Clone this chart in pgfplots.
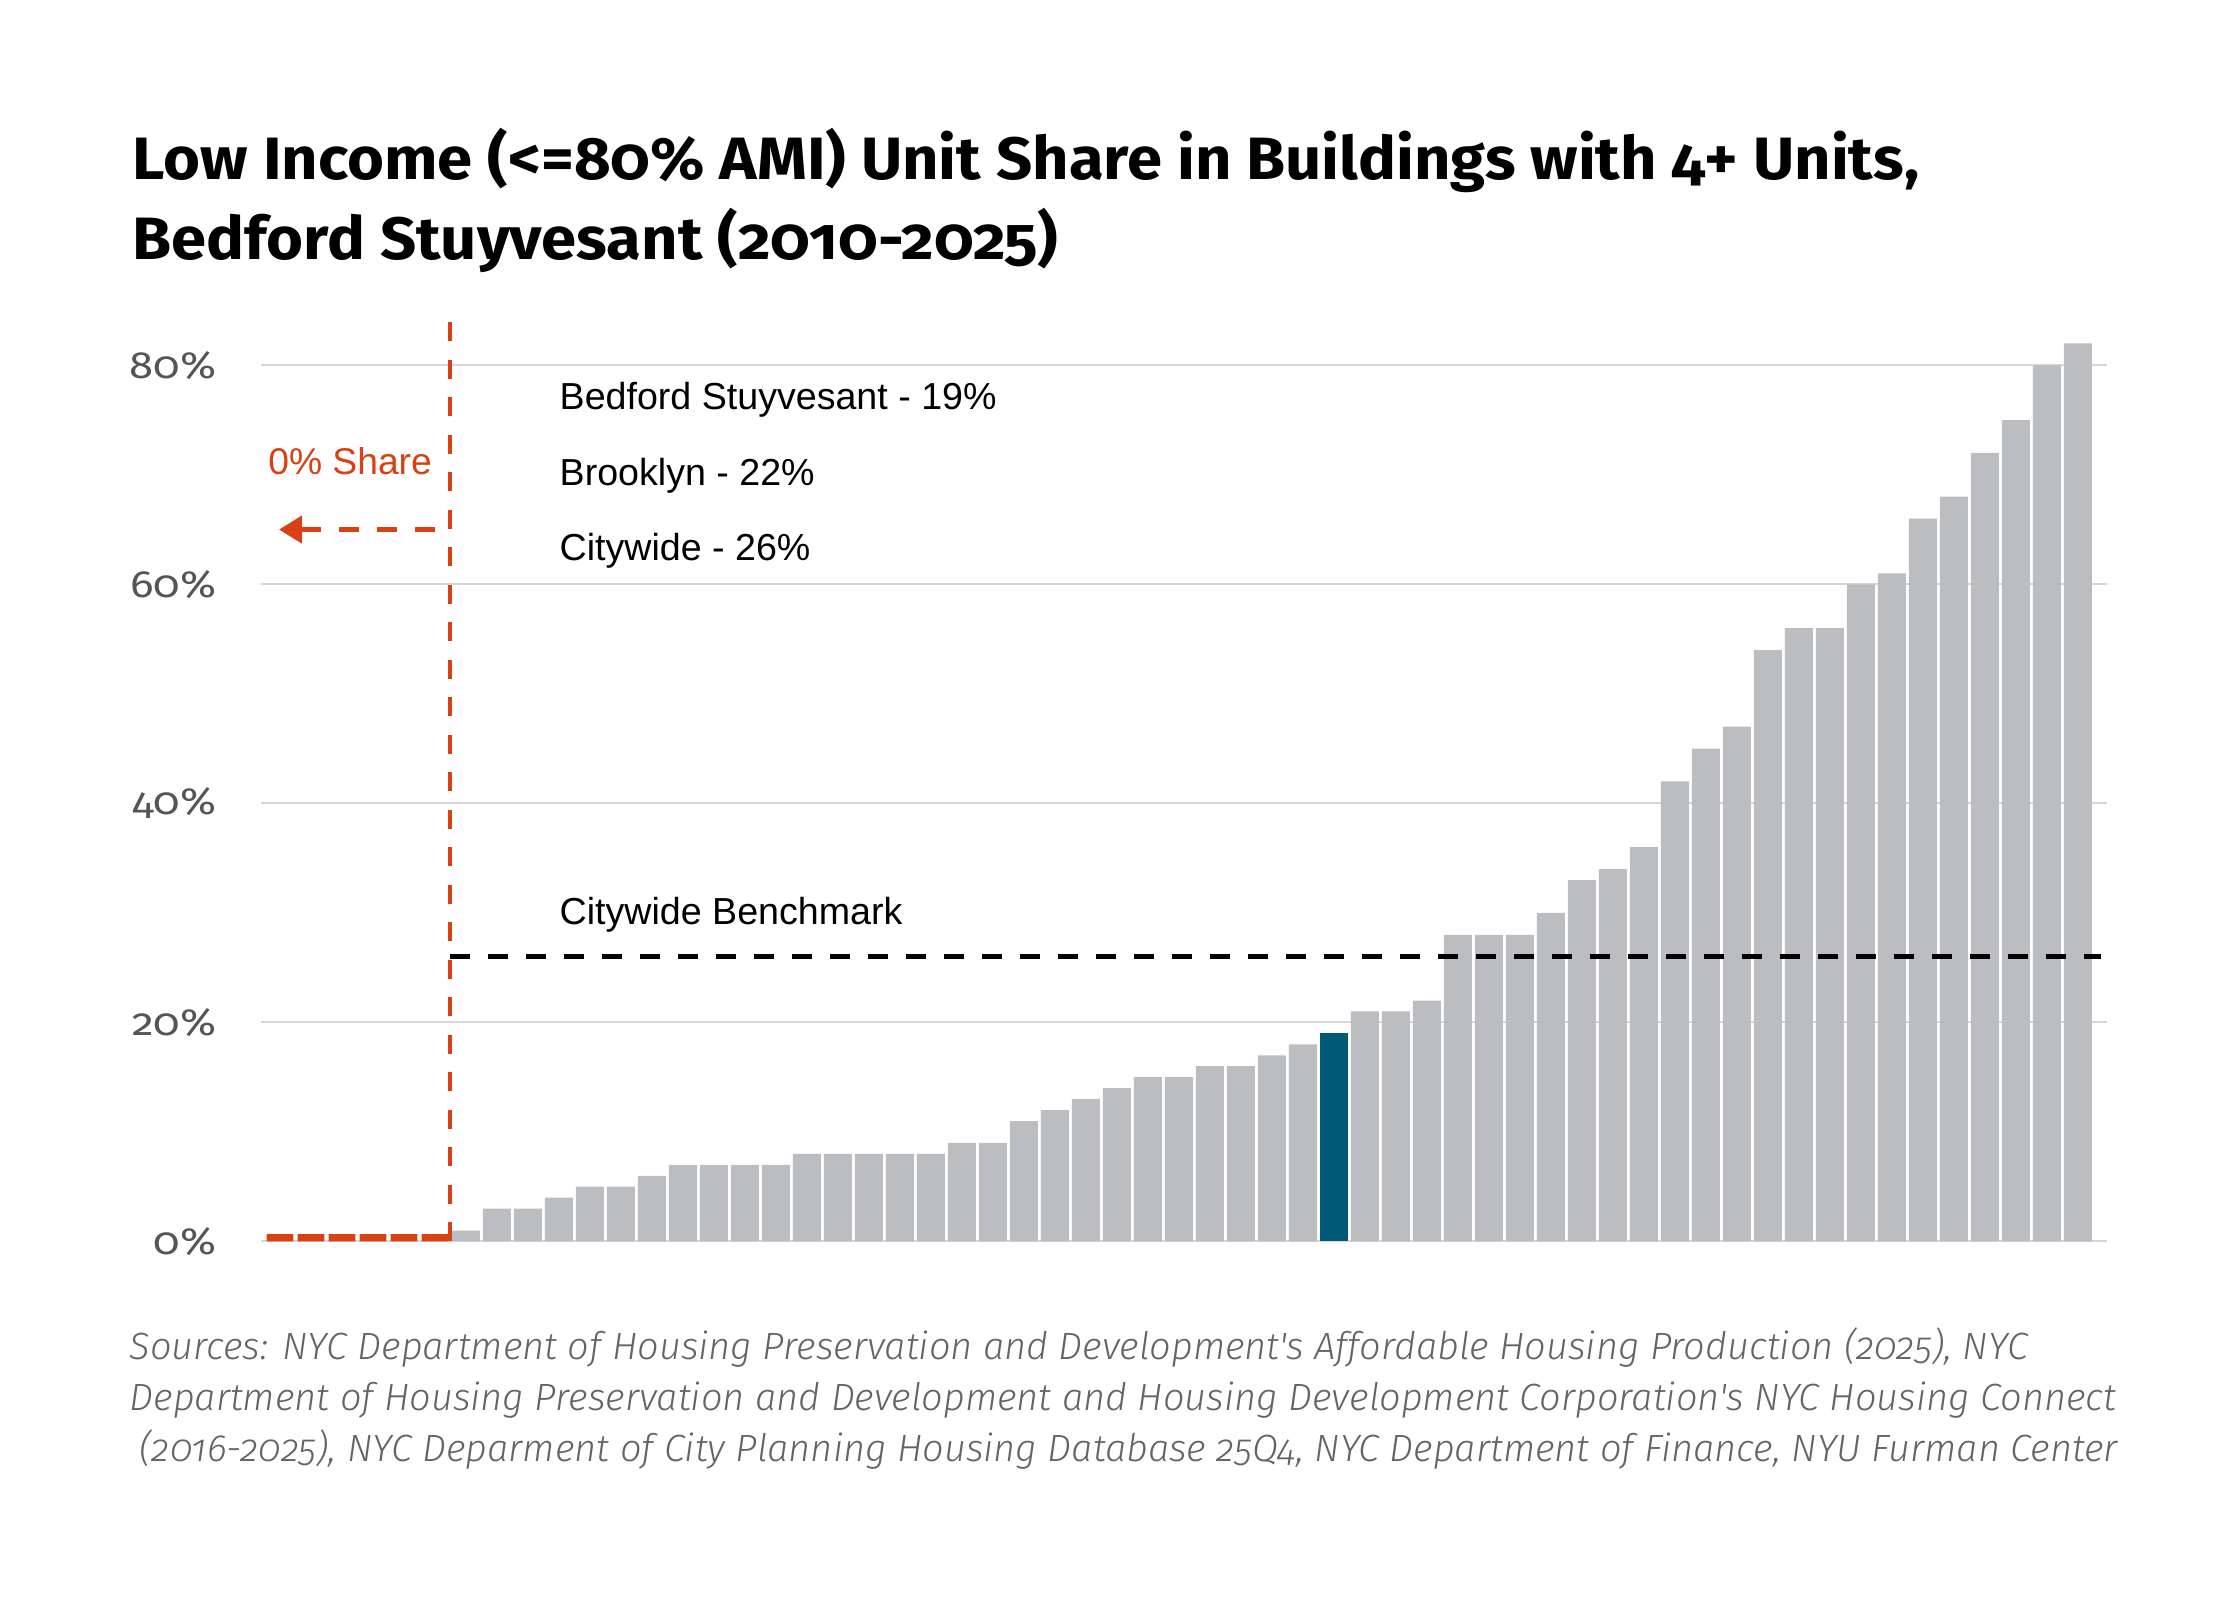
\documentclass[border=0pt]{standalone}
\usepackage{fontspec}
\setmainfont{Liberation Sans}
\newfontfamily\titlefont{Fira Sans}[Numbers=OldStyle, FakeStretch=1.06]
\newfontfamily\tickfont{Fira Sans}[Numbers=OldStyle, FakeStretch=1.15]
\newfontfamily\lightfont{Fira Sans Light}[Numbers=OldStyle]
\usepackage{pgfplots}
\pgfplotsset{compat=1.18}
\usetikzlibrary{arrows.meta}
\definecolor{barGray}{RGB}{188,189,193}
\definecolor{bedBlue}{RGB}{0,90,118}
\definecolor{shareRed}{RGB}{217,65,20}
\definecolor{gridGray}{RGB}{214,214,214}
\definecolor{tickGray}{RGB}{85,85,85}
\definecolor{srcGray}{RGB}{100,100,100}
\begin{document}
\begin{tikzpicture}
\useasboundingbox (-26.1mm,-35.85mm) rectangle (197.9mm,124.15mm);
\begin{axis}[
  scale only axis,
  width=184.6mm, height=93.1mm,
  xmin=-0.613, xmax=58.94, ymin=0, ymax=85,
  axis line style={draw=none},
  major tick length=0pt,
  xtick=\empty,
  ytick={0,20,40,60,80},
  yticklabels={0\%,20\%,40\%,60\%,80\%},
  ymajorgrids,
  grid style={gridGray, line width=0.57pt},
  yticklabel style={font=\tickfont\fontsize{10.8}{13}\selectfont, text=tickGray, inner sep=0pt, xshift=-4.4mm},
  clip=false,
]
\addplot[ybar, bar width=0.87, bar shift=0pt, fill=shareRed, draw=none] coordinates {
(0,0.68) (1,0.68) (2,0.68) (3,0.68) (4,0.68) (5,0.68)
};
\addplot[ybar, bar width=0.903, bar shift=0pt, fill=barGray, draw=none] coordinates {
(6,1) (7,3) (8,3) (9,4) (10,5) (11,5) (12,6) (13,7) (14,7) (15,7) (16,7)
(17,8) (18,8) (19,8) (20,8) (21,8) (22,9) (23,9) (24,11) (25,12) (26,13)
(27,14) (28,15) (29,15) (30,16) (31,16) (32,17) (33,18)
(35,21) (36,21) (37,22) (38,28) (39,28) (40,28) (41,30) (42,33) (43,34)
(44,36) (45,42) (46,45) (47,47) (48,54) (49,56) (50,56) (51,60) (52,61)
(53,66) (54,68) (55,72) (56,75) (57,80) (58,82)
};
\addplot[ybar, bar width=0.903, bar shift=0pt, fill=bedBlue, draw=none] coordinates {
(34,19)
};
\draw[shareRed, line width=1.34pt, dash pattern=on 1.9mm off 1.85mm] (axis cs:5.48,0) -- (axis cs:5.48,84.85);
\draw[black, line width=1.34pt, dash pattern=on 2mm off 1.8mm] (axis cs:5.48,26) -- (axis cs:58.75,26);
\draw[shareRed, line width=1.34pt, dash pattern=on 1.95mm off 1.85mm, -{Triangle[length=2.3mm,width=2.7mm]}] (axis cs:4.99,65) -- (axis cs:-0.03,65);
\node[anchor=base west, inner sep=0pt, text=shareRed, font=\fontsize{10.6}{12.7}\selectfont] at (axis cs:-0.40,70.0) {0\% Share};
\node[anchor=base west, inner sep=0pt, font=\fontsize{10.7}{12.7}\selectfont] at (axis cs:9.0,75.96) {Bedford Stuyvesant - 19\%};
\node[anchor=base west, inner sep=0pt, font=\fontsize{10.7}{12.7}\selectfont] at (axis cs:9.0,68.99) {Brooklyn - 22\%};
\node[anchor=base west, inner sep=0pt, font=\fontsize{10.7}{12.7}\selectfont] at (axis cs:9.0,62.14) {Citywide - 26\%};
\node[anchor=base west, inner sep=0pt, font=\fontsize{10.7}{12.7}\selectfont] at (axis cs:9.0,28.98) {Citywide Benchmark};
\end{axis}
\node[anchor=base west, inner sep=0pt, font=\titlefont\bfseries\fontsize{17}{21}\selectfont] at (-12.9mm,106.2mm) {Low Income (<=80\% AMI) Unit Share in Buildings with 4+ Units,};
\node[anchor=base west, inner sep=0pt, font=\titlefont\bfseries\fontsize{17}{21}\selectfont] at (-12.9mm,98.2mm) {Bedford Stuyvesant (2010-2025)};
\begin{scope}[every node/.style={anchor=base west, inner sep=0pt, text=srcGray, font=\lightfont\itshape\fontsize{10.8}{13}\selectfont}]
\node at (-13.2mm,-11.85mm) {Sources: NYC Department of Housing Preservation and Development's Affordable Housing Production (2025), NYC};
\node at (-13.2mm,-16.95mm) {Department of Housing Preservation and Development and Housing Development Corporation's NYC Housing Connect};
\node at (-12.2mm,-22.05mm) {(2016-2025), NYC Deparment of City Planning Housing Database 25Q4, NYC Department of Finance, NYU Furman Center};
\end{scope}
\end{tikzpicture}
\end{document}
